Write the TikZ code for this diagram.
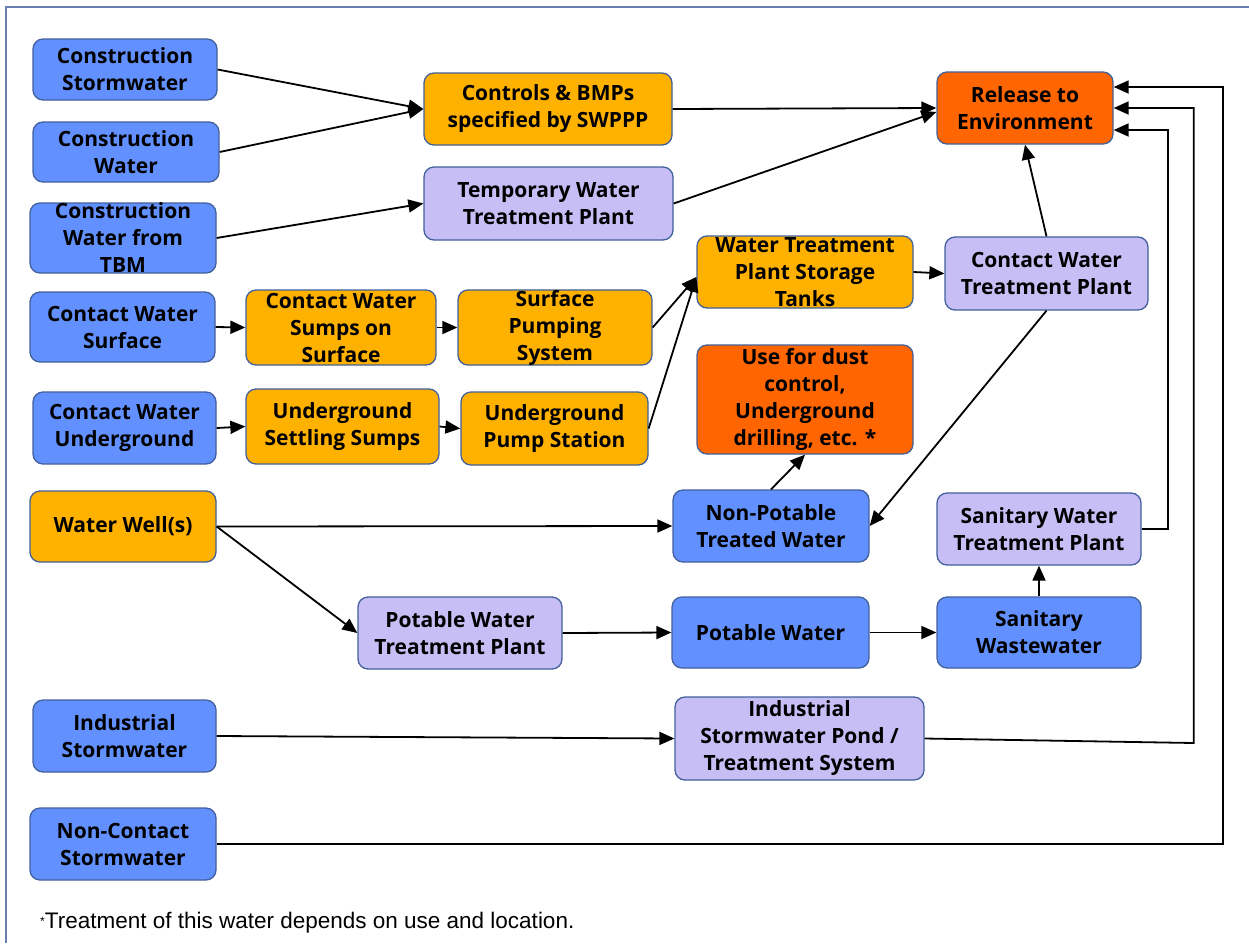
\documentclass[tikz,border=0pt]{standalone}
\usepackage{fontspec}
\setmainfont{Open Sans}
\newfontfamily\notefont{Liberation Sans}
\usetikzlibrary{arrows.meta}

\definecolor{srcblue}{HTML}{6291FF}
\definecolor{stepamber}{HTML}{FFB100}
\definecolor{plantlav}{HTML}{C8BEF6}
\definecolor{endorange}{HTML}{FF6500}
\definecolor{edgeblue}{HTML}{41609C}

\newcommand*{\boxfont}{\bfseries\fontsize{21}{27}\selectfont}

\begin{document}
\begin{tikzpicture}
[
	x=1pt,
	y=-1pt,
	box/.style={draw=edgeblue,line width=1.3pt,rounded corners=10pt,align=center,inner sep=0pt,font=\boxfont},
	source/.style={box,fill=srcblue},
	stage/.style={box,fill=stepamber},
	plant/.style={box,fill=plantlav},
	outlet/.style={box,fill=endorange},
	flow/.style={line width=1.8pt,-{Triangle[length=15pt,width=13pt]}}
]
	\useasboundingbox (0,0) rectangle (1249,943);

	% frame
	\draw[edgeblue!80,line width=1.8pt] (1249,7) -- (6,7) -- (6,943);

	% sources, left column
	\node[source,minimum width=184,minimum height=61] (cstorm) at (125,69.5) {Construction\\Stormwater};
	\node[source,minimum width=186,minimum height=60] (cwater) at (126,152) {Construction\\Water};
	\node[source,minimum width=186,minimum height=70] (ctbm) at (123,238) {Construction\\Water from\\TBM};
	\node[source,minimum width=185,minimum height=70] (cwsurf) at (122.5,327) {Contact Water\\Surface};
	\node[source,minimum width=183,minimum height=72] (cwug) at (124.5,428) {Contact Water\\Underground};
	\node[stage,minimum width=186,minimum height=71] (well) at (123,526.5) {Water Well(s)};
	\node[source,minimum width=183,minimum height=72] (isw) at (124.5,736) {Industrial\\Stormwater};
	\node[source,minimum width=186,minimum height=72] (ncsw) at (123,844) {Non-Contact\\Stormwater};

	% handling steps
	\node[stage,minimum width=248,minimum height=72] (bmp) at (548,109) {Controls \& BMPs\\specified by SWPPP};
	\node[plant,minimum width=249,minimum height=73] (twtp) at (548.5,203.5) {Temporary Water\\Treatment Plant};
	\node[stage,minimum width=190,minimum height=75] (sumps) at (341,327.5) {Contact Water\\Sumps on\\Surface};
	\node[stage,minimum width=194,minimum height=75] (spump) at (555,327.5) {Surface\\Pumping\\System};
	\node[stage,minimum width=193,minimum height=75] (settle) at (342.5,426.5) {Underground\\Settling Sumps};
	\node[stage,minimum width=187,minimum height=73] (upump) at (554.5,428.5) {Underground\\Pump Station};
	\node[stage,minimum width=216,minimum height=72] (tanks) at (805,272) {Water Treatment\\Plant Storage\\Tanks};
	\node[plant,minimum width=203,minimum height=73] (cwtp) at (1046.5,273.5) {Contact Water\\Treatment Plant};
	\node[outlet,minimum width=176,minimum height=72] (rel) at (1025,108) {Release to\\Environment};
	\node[outlet,minimum width=216,minimum height=109] (dust) at (805,399.5) {Use for dust\\control,\\Underground\\drilling, etc. *};
	\node[source,minimum width=196,minimum height=72] (npw) at (771,526) {Non-Potable\\Treated Water};
	\node[plant,minimum width=204,minimum height=72] (swtp) at (1039,529) {Sanitary Water\\Treatment Plant};
	\node[plant,minimum width=204,minimum height=72] (pwtp) at (460,633) {Potable Water\\Treatment Plant};
	\node[source,minimum width=197,minimum height=71] (pw) at (770.5,632.5) {Potable Water};
	\node[source,minimum width=204,minimum height=71] (sww) at (1039,632.5) {Sanitary\\Wastewater};
	\node[plant,minimum width=249,minimum height=83] (pond) at (799.5,738.5) {Industrial\\Stormwater Pond /\\Treatment System};

	% flows
	\draw[flow] (cstorm.east) -- (bmp.west);
	\draw[flow] (cwater.east) -- (bmp.west);
	\draw[flow] (ctbm.east) -- (twtp.west);
	\draw[flow] (bmp.east) -- (rel.west);
	\draw[flow] (twtp.east) -- ([yshift=-4pt]rel.west);
	\draw[flow] (cwsurf.east) -- (sumps.west);
	\draw[flow] (sumps.east) -- (spump.west);
	\draw[flow] (spump.east) -- ([yshift=-5pt]tanks.west);
	\draw[flow] (cwug.east) -- (settle.west);
	\draw[flow] (settle.east) -- (upump.west);
	\draw[flow] (upump.east) -- ([yshift=-5pt]tanks.west);
	\draw[flow] (tanks.east) -- (cwtp.west);
	\draw[flow] (cwtp.north) -- (rel.south);
	\draw[flow] (cwtp.south) -- (npw.east);
	\draw[flow] (npw.north) -- (dust.south);
	\draw[flow] (well.east) -- (npw.west);
	\draw[flow] (well.east) -- (pwtp.west);
	\draw[flow] (pwtp.east) -- (pw.west);
	\draw[flow] (pw.east) -- (sww.west);
	\draw[flow] (sww.north) -- (swtp.south);
	\draw[flow] (isw.east) -- (pond.west);

	% returns to release
	\draw[flow] (swtp.east) -- ++(26,0) |- ([yshift=-22pt]rel.east);
	\draw[flow] (pond.east) -- ++(269,4.5) |- (rel.east);
	\draw[flow] (ncsw.east) -- ++(1006,0) |- ([yshift=21pt]rel.east);

	% footnote
	\node[anchor=base west,inner sep=0pt,font=\notefont\fontsize{22.5}{26}\selectfont] (note) at (40,928)
	  {\raisebox{3pt}{\fontsize{12}{12}\selectfont*}Treatment of this water depends on use and location.};

\end{tikzpicture}
\end{document}
